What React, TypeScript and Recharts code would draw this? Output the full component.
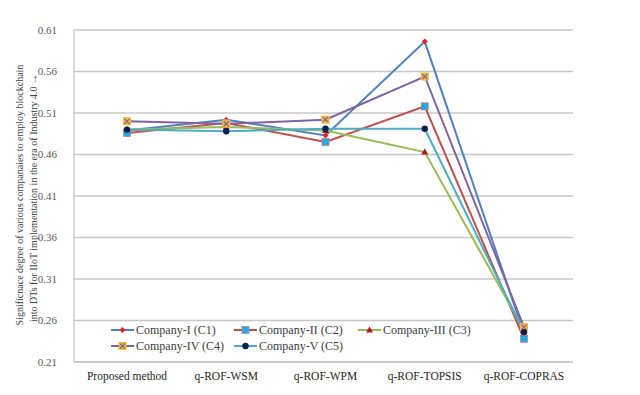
import { LineChart, Line, XAxis, YAxis, CartesianGrid } from "recharts"

const methods = ["Proposed method", "q-ROF-WSM", "q-ROF-WPM", "q-ROF-TOPSIS", "q-ROF-COPRAS"]

const c1 = [0.489, 0.502, 0.483, 0.596, 0.244]
const c2 = [0.486, 0.498, 0.475, 0.518, 0.238]
const c3 = [0.49, 0.493, 0.489, 0.463, 0.248]
const c4 = [0.5, 0.497, 0.502, 0.554, 0.252]
const c5 = [0.49, 0.488, 0.491, 0.491, 0.246]

const yTicks = [0.21, 0.26, 0.31, 0.36, 0.41, 0.46, 0.51, 0.56, 0.61]

const series = [
  { key: "c1", name: "Company-I (C1)", color: "#4F81BD", marker: "diamond" },
  { key: "c2", name: "Company-II (C2)", color: "#C0504D", marker: "square" },
  { key: "c3", name: "Company-III (C3)", color: "#9BBB59", marker: "triangle" },
  { key: "c4", name: "Company-IV (C4)", color: "#8064A2", marker: "xsquare" },
  { key: "c5", name: "Company-V (C5)", color: "#4BACC6", marker: "circle" },
]

const data = methods.map((m, i) => ({
  method: m,
  c1: c1[i],
  c2: c2[i],
  c3: c3[i],
  c4: c4[i],
  c5: c5[i],
}))

const serif = "'Liberation Serif', 'DejaVu Serif', serif"

function Marker({ type, cx, cy }: { type: string; cx: number; cy: number }) {
  if (type === "diamond")
    return <path d={`M${cx},${cy - 3} L${cx + 3},${cy} L${cx},${cy + 3} L${cx - 3},${cy} Z`} fill="#E0202A" />
  if (type === "square")
    return <rect x={cx - 3.5} y={cy - 3.5} width={7} height={7} fill="#1FA9E8" stroke="#C88080" strokeWidth={0.8} />
  if (type === "triangle")
    return <path d={`M${cx},${cy - 3.5} L${cx + 3.5},${cy + 2.5} L${cx - 3.5},${cy + 2.5} Z`} fill="#B0161B" />
  if (type === "xsquare")
    return (
      <g>
        <rect x={cx - 4} y={cy - 4} width={8} height={8} fill="#F4B73A" />
        <path d={`M${cx - 2.5},${cy - 2.5} L${cx + 2.5},${cy + 2.5} M${cx + 2.5},${cy - 2.5} L${cx - 2.5},${cy + 2.5}`} stroke="#8064A2" strokeWidth={1.2} />
      </g>
    )
  return <circle cx={cx} cy={cy} r={3.2} fill="#0B1F4F" />
}

const makeDot = (type: string) => (props: any) => {
  const { cx, cy, index } = props
  if (cx == null || cy == null) return <g key={index} />
  return (
    <g key={index}>
      <Marker type={type} cx={cx} cy={cy} />
    </g>
  )
}

function YLabel() {
  return (
    <g fontSize={10} fill="#404040">
      <text x={21} y={195} fontFamily={serif} transform="rotate(-90, 21, 195)" textAnchor="middle" dominantBaseline="middle">
        Significnace degree of various companaies to employ blockchain
      </text>
      <text x={35} y={198} fontFamily={serif} transform="rotate(-90, 35, 198)" textAnchor="middle" dominantBaseline="middle">
        into DTs for IIoT implementation in the era of Industry 4.0 →
      </text>
    </g>
  )
}

function LegendBox() {
  const cols = [0, 123, 247]
  return (
    <svg width={420} height={40} style={{ display: "block" }}>
      {series.map((s, i) => {
        const x = cols[i % 3]
        const y = i < 3 ? 10 : 26
        return (
          <g key={s.key}>
            <line x1={x} x2={x + 23} y1={y} y2={y} stroke={s.color} strokeWidth={2} />
            <Marker type={s.marker} cx={x + 11.5} cy={y} />
            <text x={x + 25} y={y + 4} fontSize={12} fontFamily={serif} fill="#404040">
              {s.name}
            </text>
          </g>
        )
      })}
    </svg>
  )
}

export default function App() {
  return (
    <div style={{ position: "fixed", left: 0, top: 0, width: 640, height: 395, background: "#fff" }}>
      <LineChart width={640} height={395} data={data} margin={{ top: 30, right: 67, bottom: 8, left: 0 }}>
        <CartesianGrid vertical={false} stroke="#C8C8C8" strokeWidth={1.3} />
        <XAxis
          dataKey="method"
          padding={{ left: 53, right: 49 }}
          axisLine={{ stroke: "#C8C8C8", strokeWidth: 1.3 }}
          tickLine={false}
          height={25}
          tick={{ fill: "#262626", fontSize: 11.5, fontFamily: serif }}
          tickMargin={4}
        />
        <YAxis
          width={74}
          domain={[0.21, 0.61]}
          ticks={yTicks}
          tickFormatter={(v: number) => v.toFixed(2)}
          axisLine={{ stroke: "#C8C8C8", strokeWidth: 1.3 }}
          tickLine={false}
          tick={{ fill: "#595959", fontSize: 11, fontFamily: serif }}
          tickMargin={11}
          label={{ content: YLabel }}
        />
        {series.map((s) => (
          <Line
            key={s.key}
            dataKey={s.key}
            name={s.name}
            stroke={s.color}
            strokeWidth={2}
            dot={makeDot(s.marker)}
            activeDot={false}
            isAnimationActive={false}
          />
        ))}
      </LineChart>
      <div style={{ position: "absolute", left: 111, top: 320 }}>
        <LegendBox />
      </div>
    </div>
  )
}
